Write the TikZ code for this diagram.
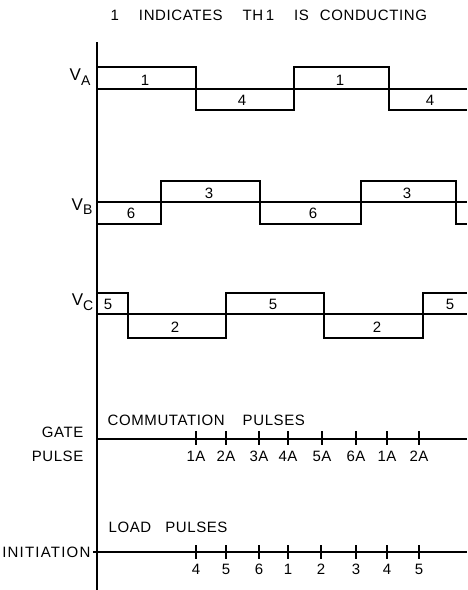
\documentclass[tikz,border=0pt]{standalone}
\usepackage{fontspec}
\setmainfont{Liberation Sans}[LetterSpace=4]
\newfontfamily\spacedfont[LetterSpace=8]{Liberation Sans}
\usetikzlibrary{positioning}

\begin{document}
\begin{tikzpicture}[x=1pt, y=-1pt, line width=1.3pt,
  txt/.style={font=\fontsize{15}{17}\selectfont, inner sep=0pt},
  sub/.style={font=\fontsize{15}{17}\selectfont, inner sep=0pt, anchor=east},
  vlab/.style={font=\fontsize{17}{19}\selectfont, inner sep=0pt, anchor=base east}]
\useasboundingbox (0,0) rectangle (467,590);

% title
\node[txt, anchor=west] (title) at (110,15)
  {1\hspace{20pt}INDICATES\hspace{20pt}TH\,1\hspace{20pt}IS\hspace{11pt}CONDUCTING};

% time axis
\coordinate (top) at (97,42);
\coordinate (bot) at (97,590);
\draw (top) -- (bot);

% phase A
\node[vlab] (va) at (91,80) {V\raisebox{-5pt}{\fontsize{14}{14}\selectfont A}};
\draw (97,89) -- (467,89);
\draw (97,67) -- (196,67) -- (196,110) -- (294,110) -- (294,67) -- (389,67) -- (389,110) -- (467,110);
\node[txt] (a1) at (145,80) {1};
\node[txt] (a4) at (242,100) {4};
\node[txt] (a1b) at (340,80) {1};
\node[txt] (a4b) at (430,100) {4};

% phase B
\node[vlab] (vb) at (93,210) {V\raisebox{-4pt}{\fontsize{14}{14}\selectfont B}};
\draw (97,202) -- (467,202);
\draw (97,224) -- (161,224) -- (161,181) -- (260,181) -- (260,224) -- (361,224) -- (361,181) -- (456,181) -- (456,224) -- (467,224);
\node[txt] (b6) at (131,213) {6};
\node[txt] (b3) at (209,193) {3};
\node[txt] (b6b) at (313,213) {6};
\node[txt] (b3b) at (407,193) {3};

% phase C
\node[vlab] (vc) at (94,305) {V\raisebox{-5pt}{\fontsize{14}{14}\selectfont C}};
\draw (97,314) -- (467,314);
\draw (97,293) -- (128,293) -- (128,338) -- (226,338) -- (226,293) -- (324,293) -- (324,338) -- (423,338) -- (423,293) -- (467,293);
\node[txt] (c5) at (108,304) {5};
\node[txt] (c2) at (175,327) {2};
\node[txt] (c5b) at (273,304) {5};
\node[txt] (c2b) at (377,327) {2};
\node[txt] (c5c) at (450,304) {5};

% gate pulses
\node[sub] (gate) at (84,432) {GATE};
\node[sub] (pulse) at (84,456) {PULSE};
\node[txt, anchor=west] (comm) at (107,420) {COMMUTATION\hspace{18pt}PULSES};
\coordinate (g0) at (97,439);
\coordinate (g1) at (467,439);
\draw (g0) -- (g1);
\foreach \x/\t [count=\i] in {196/1A,226/2A,259/3A,288/4A,322/5A,356/6A,387/1A,419/2A}{
  \draw (\x,431) -- (\x,445);
  \node[txt] (ct\i) at (\x,456) {\t};
}

% load pulses
\node[sub, font=\spacedfont\fontsize{15}{17}\selectfont] (init) at (91,552) {INITIATION};
\node[txt, anchor=west] (load) at (108,527) {LOAD\hspace{14pt}PULSES};
\coordinate (l0) at (93,552);
\coordinate (l1) at (467,552);
\draw (l0) -- (l1);
\foreach \x/\t [count=\i] in {196/4,226/5,259/6,288/1,321/2,356/3,387/4,419/5}{
  \draw (\x,545) -- (\x,559);
  \node[txt] (lt\i) at (\x,569) {\t};
}
\end{tikzpicture}
\end{document}
